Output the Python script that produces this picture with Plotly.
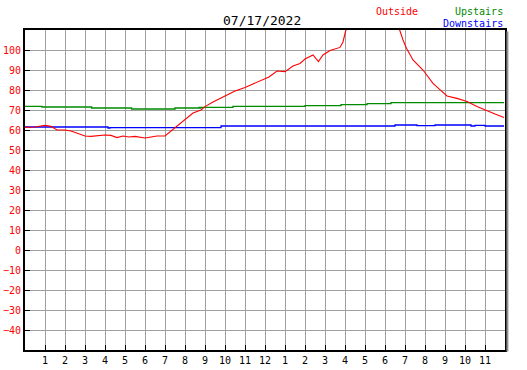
import plotly.graph_objects as go

# Outside temperature (hour of day, deg F)
out_hours = [0.0, 0.5, 1.0, 1.3, 1.6, 2.0, 2.3, 2.6, 3.0, 3.3, 3.6, 4.0, 4.3, 4.6, 4.9,
             5.2, 5.5, 5.8, 6.0, 6.3, 6.6, 7.0, 7.3, 7.6, 8.0, 8.4, 8.8, 9.0, 9.4, 9.75,
             10.1, 10.5, 11.0, 11.5, 11.75, 12.2, 12.6, 13.0, 13.4, 13.75, 14.0, 14.4,
             14.67, 14.9, 15.25, 15.75, 15.9, 16.03, 16.2, 17.0, 18.0, 18.6, 18.75, 18.9,
             19.08, 19.4, 19.9, 20.4, 20.8, 21.1, 21.6, 22.1, 22.6, 23.1, 23.5, 23.95]
out_temps = [61.3, 61.5, 62.3, 61.8, 60.0, 60.0, 59.5, 58.5, 57.0, 56.8, 57.2, 57.5, 57.3, 56.2, 57.0,
             56.5, 56.8, 56.2, 56.0, 56.5, 57.0, 57.0, 59.5, 62.0, 65.0, 68.5, 70.0, 71.7, 74.0, 75.8,
             77.8, 79.5, 81.3, 83.5, 84.2, 86.5, 89.5, 89.2, 92.0, 93.3, 95.5, 97.5,
             94.2, 97.5, 99.7, 101.3, 104.0, 109.5, 114.0, 120.0, 120.0, 114.0, 109.5, 105.0,
             100.8, 95.0, 90.0, 83.3, 79.7, 77.0, 75.8, 74.2, 71.7, 69.5, 68.0, 66.3]

# Upstairs
up_hours = [0.0, 0.8, 0.85, 1.0, 3.33, 5.33, 7.5, 8.7, 8.75, 8.8, 10.4, 14.0, 15.8, 17.1, 18.3, 23.95]
up_temps = [71.8, 71.8, 71.5, 71.5, 71.0, 70.5, 71.0, 71.3, 70.9, 71.3, 71.8, 72.2, 72.7, 73.2, 73.7, 73.7]

# Downstairs
down_hours = [0.0, 4.1, 4.15, 4.25, 9.8, 18.3, 18.5, 19.4, 19.6, 20.5, 22.0, 22.3, 22.5, 23.0, 23.95]
down_temps = [61.5, 61.5, 61.0, 61.2, 62.0, 62.0, 62.5, 62.5, 62.2, 62.5, 62.5, 62.0, 62.3, 62.0, 62.0]

x_tickvals = list(range(1, 24))
x_ticktext = ["1", "2", "3", "4", "5", "6", "7", "8", "9", "10", "11", "12",
              "1", "2", "3", "4", "5", "6", "7", "8", "9", "10", "11"]
y_tickvals = list(range(-40, 101, 10))

title_text = "07/17/2022"

mono = "DejaVu Sans Mono"

fig = go.Figure()
fig.add_trace(go.Scatter(x=up_hours, y=up_temps, mode="lines", name="Upstairs",
                         line=dict(color="#008a00", width=1.3, shape="hv")))
fig.add_trace(go.Scatter(x=down_hours, y=down_temps, mode="lines", name="Downstairs",
                         line=dict(color="#0000ff", width=1.3, shape="hv")))
fig.add_trace(go.Scatter(x=out_hours, y=out_temps, mode="lines", name="Outside",
                         line=dict(color="#ff0000", width=1.1)))

fig.update_layout(
    width=527, height=370,
    margin=dict(l=25, r=22, t=30, b=20, autoexpand=False),
    paper_bgcolor="white", plot_bgcolor="white",
    showlegend=False,
    font=dict(family=mono, size=10, color="black"),
)
fig.update_xaxes(range=[0, 24], tickvals=x_tickvals, ticktext=x_ticktext,
                 automargin=False,
                 showgrid=True, gridcolor="#a0a0a0", gridwidth=1,
                 showline=True, linecolor="black", linewidth=2, mirror=True,
                 ticks="inside", ticklen=5, tickcolor="black",
                 tickfont=dict(family=mono, size=10, color="black"), zeroline=False)
fig.update_yaxes(range=[-50, 110], tickvals=y_tickvals,
                 automargin=False,
                 showgrid=True, gridcolor="#a0a0a0", gridwidth=1,
                 showline=True, linecolor="black", linewidth=2, mirror=True,
                 ticks="inside", ticklen=5, tickcolor="black",
                 tickfont=dict(family=mono, size=10, color="#ff0000"), zeroline=False)

# right border shadow
fig.add_shape(type="line", xref="paper", yref="paper", x0=1.005, x1=1.005, y0=-0.005, y1=0.995,
              line=dict(color="#909090", width=2))

fig.add_annotation(text=title_text, xref="paper", yref="paper", x=0.494, y=1.0,
                   yshift=10, showarrow=False, xanchor="center", yanchor="middle",
                   font=dict(family=mono, size=13, color="black"))
fig.add_annotation(text="Outside", xref="paper", yref="paper", x=0.728, y=1.0,
                   yshift=19, showarrow=False, xanchor="left", yanchor="middle",
                   font=dict(family=mono, size=10, color="#ff0000"))
fig.add_annotation(text="Upstairs", xref="paper", yref="paper", x=1.0, y=1.0,
                   yshift=19, showarrow=False, xanchor="right", yanchor="middle",
                   font=dict(family=mono, size=10, color="#008a00"))
fig.add_annotation(text="Downstairs", xref="paper", yref="paper", x=1.0, y=1.0,
                   yshift=7, showarrow=False, xanchor="right", yanchor="middle",
                   font=dict(family=mono, size=10, color="#0000ff"))

fig.write_html("out.html", config={"displayModeBar": False},
               post_script="document.body.style.margin='0';")
